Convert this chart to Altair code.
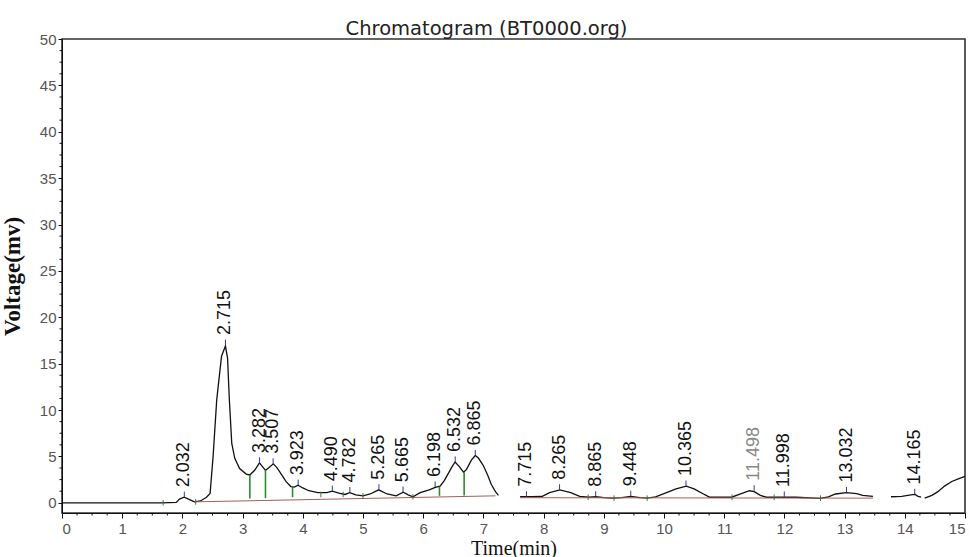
import altair as alt
import pandas as pd

# ---------------- data ----------------
seg1_t = [0.0, 1.65, 1.9, 1.95, 2.03, 2.12, 2.2, 2.3, 2.4, 2.46, 2.51, 2.57, 2.65, 2.715, 2.75,
          2.78, 2.82, 2.87, 2.95, 3.06, 3.12, 3.2, 3.28, 3.33, 3.38, 3.44, 3.51, 3.57, 3.65, 3.72,
          3.8, 3.86, 3.92, 4.0, 4.1, 4.25, 4.4, 4.49, 4.6, 4.7, 4.78, 4.88, 5.0, 5.12, 5.26, 5.4,
          5.55, 5.67, 5.75, 5.83, 5.95, 6.1, 6.2, 6.28, 6.35, 6.42, 6.48, 6.53, 6.6, 6.67, 6.72,
          6.8, 6.865, 6.92, 7.0, 7.07, 7.13, 7.2, 7.25]
seg1_v = [0.0, 0.0, 0.05, 0.4, 0.6, 0.35, 0.1, 0.2, 0.6, 1.0, 5.0, 11.1, 15.8, 16.9, 15.6,
          11.1, 6.4, 4.8, 3.7, 3.1, 3.0, 3.5, 4.3, 3.9, 3.5, 3.8, 4.2, 3.8, 3.0, 2.3,
          1.75, 1.7, 1.9, 1.6, 1.3, 1.1, 1.1, 1.25, 1.05, 0.9, 1.1, 0.85, 0.75, 0.95, 1.4, 0.95,
          0.75, 1.15, 0.85, 0.65, 1.1, 1.4, 1.65, 1.8, 2.4, 3.2, 3.9, 4.4, 3.9, 3.3, 3.6,
          4.6, 5.1, 4.8, 4.0, 3.0, 2.0, 1.2, 0.8]
seg2_t = [7.61, 7.8, 7.97, 8.1, 8.27, 8.45, 8.6, 8.75, 8.87, 9.0, 9.15, 9.3, 9.45, 9.6, 9.72,
          9.86, 10.0, 10.2, 10.37, 10.5, 10.67, 10.76, 11.0, 11.12, 11.25, 11.42, 11.5, 11.6,
          11.7, 12.0, 12.2, 12.5, 12.6, 12.73, 12.85, 13.03, 13.2, 13.3, 13.47]
seg2_v = [0.65, 0.65, 0.68, 1.1, 1.4, 1.1, 0.7, 0.6, 0.65, 0.55, 0.5, 0.55, 0.7, 0.55, 0.5,
          0.65, 1.0, 1.5, 1.8, 1.5, 0.9, 0.6, 0.6, 0.6, 0.9, 1.3, 1.2, 0.8,
          0.6, 0.62, 0.6, 0.5, 0.48, 0.65, 0.95, 1.1, 1.0, 0.8, 0.7]
seg3_t = [13.77, 13.95, 14.1, 14.17, 14.22, 14.27]
seg3_v = [0.65, 0.7, 0.85, 0.9, 0.7, 0.6]
seg4_t = [14.33, 14.45, 14.55, 14.66, 14.78, 14.9, 15.0]
seg4_v = [0.5, 0.8, 1.2, 1.8, 2.3, 2.6, 2.85]

base_t = [2.2, 7.2, 7.61, 13.47]
base_v = [0.1, 0.75, 0.55, 0.5]
base_seg = [1, 1, 2, 2]

peak_t = [2.032, 2.715, 3.282, 3.507, 3.923, 4.490, 4.782, 5.265, 5.665, 6.198, 6.532,
          6.865, 7.715, 8.265, 8.865, 9.448, 10.365, 11.498, 11.998, 13.032, 14.165]
peak_v = [0.6, 17.0, 4.3, 4.2, 1.9, 1.25, 1.1, 1.4, 1.15, 1.7, 4.4,
          5.1, 0.65, 1.4, 0.65, 0.7, 1.8, 1.3, 0.62, 1.1, 0.9]
peak_label = ["2.032", "2.715", "3.282", "3.507", "3.923", "4.490", "4.782", "5.265", "5.665",
              "6.198", "6.532", "6.865", "7.715", "8.265", "8.865", "9.448", "10.365", "11.498",
              "11.998", "13.032", "14.165"]
peak_color = ["#111"] * 17 + ["#888"] + ["#111"] * 3

sep_t = [3.12, 3.38, 3.83, 6.27, 6.68]
sep_lo = [0.45, 0.5, 0.6, 0.75, 0.8]
sep_hi = [3.0, 3.5, 1.75, 1.75, 3.3]

bnd_t = [1.68, 2.22, 4.3, 4.67, 5.0, 5.83, 8.74, 9.17, 9.72, 11.13, 11.83, 12.6]
bnd_v = [0.0, 0.1, 0.9, 0.9, 0.75, 0.65, 0.6, 0.5, 0.5, 0.6, 0.6, 0.5]

x_ticks = list(range(0, 16))
y_ticks = list(range(0, 51, 5))
x_minor = [i / 4 for i in range(61) if i % 4]
y_minor = [i * 1.25 for i in range(41) if i % 4]

# ---------------- tables ----------------
trace = pd.DataFrame({
    "t": seg1_t + seg2_t + seg3_t + seg4_t,
    "v": seg1_v + seg2_v + seg3_v + seg4_v,
    "seg": [1] * len(seg1_t) + [2] * len(seg2_t) + [3] * len(seg3_t) + [4] * len(seg4_t),
})
base = pd.DataFrame({"t": base_t, "v": base_v, "seg": base_seg})
peaks = pd.DataFrame({"t": peak_t, "v": peak_v, "v2": [v + 0.6 for v in peak_v],
                      "label": peak_label, "col": peak_color})
seps = pd.DataFrame({"t": sep_t, "v": sep_lo, "v2": sep_hi})
bnds = pd.DataFrame({"t": bnd_t, "v": [v - 0.3 for v in bnd_v], "v2": [v + 0.3 for v in bnd_v]})
xm = pd.DataFrame({"t": x_minor})
ym = pd.DataFrame({"v": y_minor})

W, H = 903, 474
xscale = alt.Scale(domain=[0, 15], nice=False, zero=False)
yscale = alt.Scale(domain=[-1.1, 50], nice=False, zero=False)

xaxis = alt.Axis(values=x_ticks, format="d", grid=False, tickSize=5, tickColor="#111",
                 domainColor="#111", labelFont="Liberation Sans", labelFontSize=15,
                 labelColor="#555", labelPadding=3,
                 title="Time(min)", titleFont="Liberation Serif", titleFontSize=20,
                 titleFontWeight="normal", titleColor="#111", titleY=35, titleBaseline="middle")
yaxis = alt.Axis(values=y_ticks, format="d", grid=False, tickSize=4, tickColor="#111",
                 domainColor="#111", labelFont="Liberation Sans", labelFontSize=15,
                 labelColor="#555", labelPadding=2,
                 title="Voltage(mv)", titleFont="Liberation Serif", titleFontSize=23,
                 titleFontWeight="bold", titleColor="#111", titleX=-50, titleY=H / 2,
                 titleAngle=270, titleBaseline="middle", titleAlign="center")

X = alt.X("t:Q", scale=xscale, axis=xaxis)
Y = alt.Y("v:Q", scale=yscale, axis=yaxis)

line = alt.Chart(trace).mark_line(color="#111", strokeWidth=1.3).encode(
    x=X, y=Y, detail="seg:N")
baseline = alt.Chart(base).mark_line(color="#a0605a", strokeWidth=1).encode(
    x="t:Q", y="v:Q", detail="seg:N")
sep_rules = alt.Chart(seps).mark_rule(color="#2e8b2e", strokeWidth=1.6).encode(
    x="t:Q", y="v:Q", y2="v2:Q")
bnd_rules = alt.Chart(bnds).mark_rule(color="#3a7a3a", strokeWidth=1).encode(
    x="t:Q", y="v:Q", y2="v2:Q")
peak_rules = alt.Chart(peaks).mark_rule(color="#3535a8", strokeWidth=1).encode(
    x="t:Q", y="v:Q", y2="v2:Q")
labels = alt.Chart(peaks).mark_text(
    angle=270, align="left", baseline="middle", dx=10, font="Liberation Sans", fontSize=18
).encode(x="t:Q", y="v:Q", text="label:N", color=alt.Color("col:N", scale=None))
xminor = alt.Chart(xm).mark_rule(color="#111", strokeWidth=1).encode(
    x="t:Q", y=alt.value(H), y2=alt.value(H + 2.5))
yminor = alt.Chart(ym).mark_rule(color="#111", strokeWidth=1).encode(
    y="v:Q", x=alt.value(-2.5), x2=alt.value(0))

chart = alt.layer(line, baseline, sep_rules, bnd_rules, peak_rules, labels, xminor, yminor).properties(
    width=W, height=H,
    title=alt.TitleParams("Chromatogram (BT0000.org)", font="DejaVu Sans", fontSize=19.5,
                          fontWeight="normal", color="#222", anchor="middle", dx=-27,
                          baseline="alphabetic", offset=-22, frame="group"),
    autosize=alt.AutoSizeParams(type="none"),
    padding={"left": 62, "top": 39, "right": 13, "bottom": 44},
    background="white",
).configure_view(stroke="#333", strokeWidth=1.6)

chart.save("out.html", embed_options={"renderer": "svg", "actions": False})
